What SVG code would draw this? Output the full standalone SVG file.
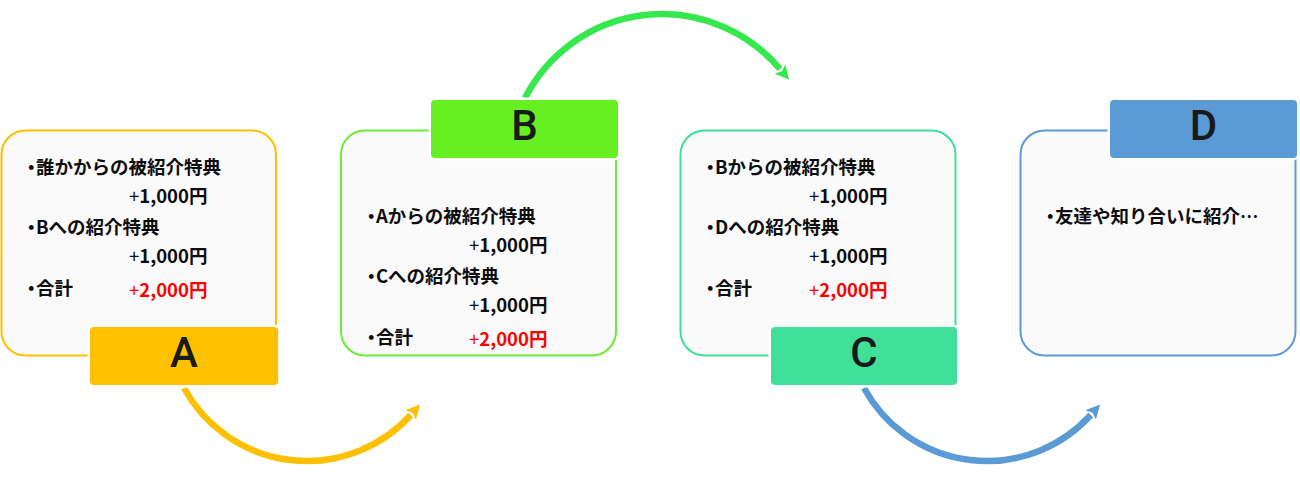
<svg xmlns="http://www.w3.org/2000/svg" width="1300" height="477" viewBox="0 0 1300 477">
<style>
.box{fill:#FAFAFA;stroke-width:2}
.lbl{stroke:#FFFFFF;stroke-width:5;paint-order:stroke}
.t{font-family:"Noto Sans CJK JP","Noto Sans",sans-serif;font-size:18.5px;font-weight:bold;fill:#0D0D0D;font-feature-settings:"halt"}
.p{font-weight:normal}
.red{fill:#FF0000}
.L{font-family:Roboto,"Noto Sans",sans-serif;font-size:42px;font-weight:500;fill:#1A1A1A;text-anchor:middle}
.arc{fill:none;stroke-width:6.5}
</style>
<defs>
<marker id="mY" viewBox="0 0 14 14" refX="0" refY="7" markerWidth="14" markerHeight="14" markerUnits="userSpaceOnUse" orient="auto"><path d="M0,0 L14,7 L0,14 L3,7 z" fill="#FFC000"/></marker>
<marker id="mG" viewBox="0 0 14 14" refX="0" refY="7" markerWidth="14" markerHeight="14" markerUnits="userSpaceOnUse" orient="auto"><path d="M0,0 L14,7 L0,14 L3,7 z" fill="#35E84E"/></marker>
<marker id="mB" viewBox="0 0 14 14" refX="0" refY="7" markerWidth="14" markerHeight="14" markerUnits="userSpaceOnUse" orient="auto"><path d="M0,0 L14,7 L0,14 L3,7 z" fill="#5B9BD5"/></marker>
</defs>
<rect width="1300" height="477" fill="#FFFFFF"/>

<g id="connectors">
<path class="arc" d="M184,388 A140,140 0 0 0 410.7,415" stroke="#FFC000" marker-end="url(#mY)"/>
<path class="arc" d="M525,98 A154,154 0 0 1 780,69" stroke="#35E84E" marker-end="url(#mG)"/>
<path class="arc" d="M864,388 A140,140 0 0 0 1090.7,415" stroke="#5B9BD5" marker-end="url(#mB)"/>
</g>

<g id="nodeA">
<rect class="box" x="1.5" y="130.5" width="274.5" height="225" rx="24" stroke="#FFC000"/>
<text class="t" x="26.7" y="174">・誰かからの被紹介特典</text>
<text class="t" x="129" y="202.5"><tspan class="p">+</tspan>1,000円</text>
<text class="t" x="26.7" y="234">・Bへの紹介特典</text>
<text class="t" x="129" y="262.5"><tspan class="p">+</tspan>1,000円</text>
<text class="t" x="26.7" y="295">・合計</text>
<text class="t red" x="129" y="296.5"><tspan class="p">+</tspan>2,000円</text>
<rect class="lbl" x="90" y="327" width="188" height="58" rx="4" fill="#FFC000"/>
<text class="L" x="184" y="367">A</text>
</g>

<g id="nodeB">
<rect class="box" x="341" y="130.5" width="275" height="225" rx="24" stroke="#6BEB3A"/>
<text class="t" x="366.7" y="223">・Aからの被紹介特典</text>
<text class="t" x="469" y="251.5"><tspan class="p">+</tspan>1,000円</text>
<text class="t" x="366.7" y="283">・Cへの紹介特典</text>
<text class="t" x="469" y="311.5"><tspan class="p">+</tspan>1,000円</text>
<text class="t" x="366.7" y="344">・合計</text>
<text class="t red" x="469" y="345.5"><tspan class="p">+</tspan>2,000円</text>
<rect class="lbl" x="431" y="100" width="187" height="58" rx="4" fill="#66F022"/>
<text class="L" x="524.5" y="140">B</text>
</g>

<g id="nodeC">
<rect class="box" x="680.5" y="130.5" width="275" height="225" rx="24" stroke="#40E09A"/>
<text class="t" x="705.7" y="174">・Bからの被紹介特典</text>
<text class="t" x="809" y="202.5"><tspan class="p">+</tspan>1,000円</text>
<text class="t" x="705.7" y="234">・Dへの紹介特典</text>
<text class="t" x="809" y="262.5"><tspan class="p">+</tspan>1,000円</text>
<text class="t" x="705.7" y="295">・合計</text>
<text class="t red" x="809" y="296.5"><tspan class="p">+</tspan>2,000円</text>
<rect class="lbl" x="771" y="327" width="186" height="58" rx="4" fill="#40E09A"/>
<text class="L" x="864" y="367">C</text>
</g>

<g id="nodeD">
<rect class="box" x="1020.5" y="130.5" width="275" height="225" rx="24" stroke="#5B9BD5"/>
<text class="t" x="1045.7" y="223">・友達や知り合いに紹介…</text>
<rect class="lbl" x="1110" y="100" width="187" height="58" rx="4" fill="#5B9BD5"/>
<text class="L" x="1203.5" y="140">D</text>
</g>
</svg>
